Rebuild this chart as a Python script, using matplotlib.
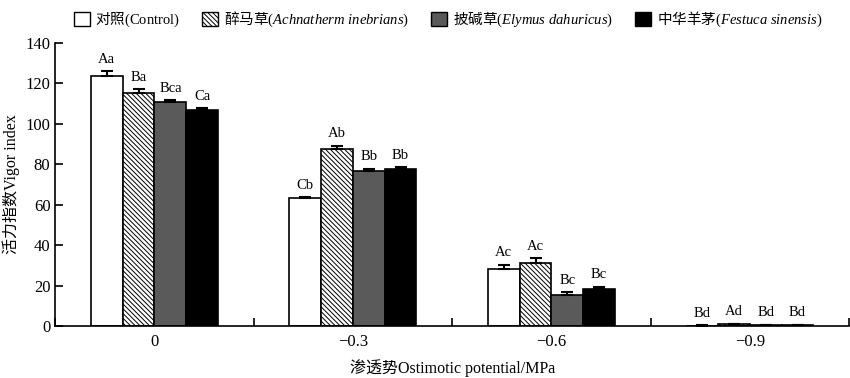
import numpy as np
import matplotlib
matplotlib.use("Agg")
import matplotlib.pyplot as plt
from matplotlib.patches import Patch

plt.rcParams['font.family'] = ['Liberation Serif', 'Noto Sans CJK SC']
plt.rcParams['mathtext.fontset'] = 'custom'
plt.rcParams['mathtext.rm'] = 'Liberation Serif'
plt.rcParams['mathtext.it'] = 'Liberation Serif:italic'
plt.rcParams['hatch.linewidth'] = 0.7

groups = ['0', '\u22120.3', '\u22120.6', '\u22120.9']
series = ['对照$\\mathrm{(Control)}$',
          '醉马草$\\mathrm{(}\\mathit{Achnatherm\\ inebrians}\\mathrm{)}$',
          '披碱草$\\mathrm{(}\\mathit{Elymus\\ dahuricus}\\mathrm{)}$',
          '中华羊茅$\\mathrm{(}\\mathit{Festuca\\ sinensis}\\mathrm{)}$']

control = [123.7, 63.2, 28.3, 0.2]
achnatherum = [115.1, 87.7, 31.2, 0.9]
elymus = [110.7, 76.8, 15.3, 0.3]
festuca = [106.7, 77.5, 18.2, 0.3]

control_err = [2.4, 0.5, 1.9, 0.1]
achnatherum_err = [2.0, 1.5, 2.3, 0.2]
elymus_err = [1.0, 1.0, 1.3, 0.2]
festuca_err = [1.0, 1.0, 1.2, 0.2]

control_lab = ['Aa', 'Cb', 'Ac', 'Bd']
achnatherum_lab = ['Ba', 'Ab', 'Ac', 'Ad']
elymus_lab = ['Bca', 'Bb', 'Bc', 'Bd']
festuca_lab = ['Ca', 'Bb', 'Bc', 'Bd']

values = [control, achnatherum, elymus, festuca]
errors = [control_err, achnatherum_err, elymus_err, festuca_err]
letters = [control_lab, achnatherum_lab, elymus_lab, festuca_lab]
faces = ['white', 'white', '#5a5a5a', 'black']
hatches = [None, '\\' * 7, None, None]

fig = plt.figure(figsize=(8.5, 3.78), dpi=100)
ax = fig.add_axes([0.065, 0.1376, 0.934, 0.7486])

x = np.arange(len(groups))
w = 0.16
for i in range(4):
    pos = x + (i - 1.5) * w
    ax.bar(pos, values[i], w, color=faces[i], edgecolor='black',
           linewidth=1.2, hatch=hatches[i], zorder=2)
    ax.errorbar(pos, values[i], yerr=[np.zeros(4), errors[i]], fmt='none',
                ecolor='black', elinewidth=1.5, capsize=4, capthick=1.5, zorder=3)
    for j in range(4):
        ax.annotate(letters[i][j], (pos[j], values[i][j] + errors[i][j]),
                    xytext=(0, 4), textcoords='offset points',
                    ha='center', va='bottom', fontsize=10.5)

ax.set_xlim(-0.5, 3.5)
ax.set_ylim(0, 140)
ax.set_yticks(range(0, 141, 20))
ax.set_xticks(np.arange(-0.5, 3.6, 1))
ax.set_xticklabels([])
ax.set_xticks(x, minor=True)
ax.set_xticklabels(groups, minor=True)
ax.tick_params(axis='x', which='major', direction='in', length=6, width=1.2)
ax.tick_params(axis='x', which='minor', length=0, pad=6, labelsize=12)
ax.tick_params(axis='y', direction='in', length=6, width=1.2, labelsize=12)
ax.spines['top'].set_visible(False)
ax.spines['right'].set_visible(False)
ax.spines['left'].set_linewidth(1.2)
ax.spines['bottom'].set_linewidth(1.2)

ax.set_xlabel('渗透势Ostimotic potential/MPa', fontsize=11.5, labelpad=6)
ax.set_ylabel('活力指数Vigor index', fontsize=11.5, labelpad=4)

handles = [Patch(facecolor=faces[i], edgecolor='black', hatch=hatches[i], linewidth=1.0)
           for i in range(4)]
fig.legend(handles, series, loc='upper center', bbox_to_anchor=(0.527, 1.01),
           ncol=4, frameon=False, handlelength=1.1, handleheight=1.1,
           handletextpad=0.4, columnspacing=1.5,
           prop={'family': 'Noto Sans CJK SC', 'size': 10.5})

fig.savefig('out.png', dpi=100)
